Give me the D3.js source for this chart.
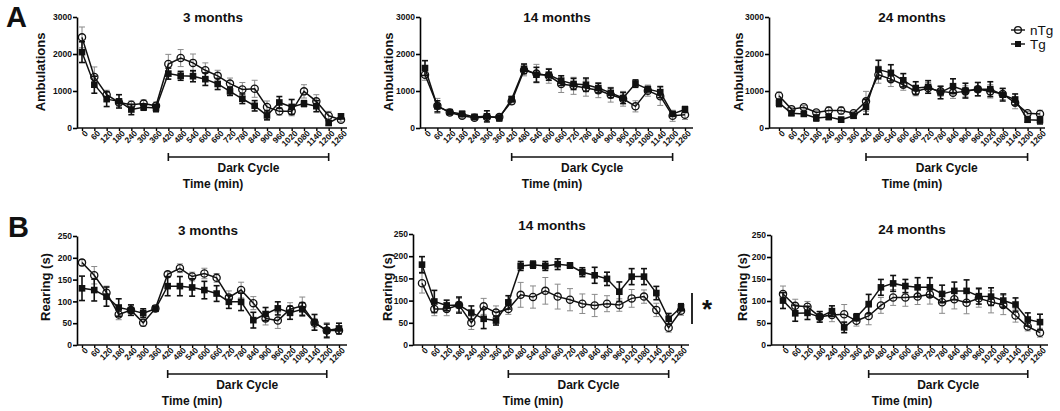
<!DOCTYPE html>
<html>
<head>
<meta charset="utf-8">
<script src="https://cdn.jsdelivr.net/npm/d3@7"></script>
<style>
body{margin:0;background:#fff;}
svg text{font-family:"Liberation Sans",Arial,sans-serif;font-weight:bold;fill:#111;}
svg text.legend{font-weight:normal;}
</style>
</head>
<body>
<div class="graph"></div>
<script>
// time points (min)
const times = [0,60,120,180,240,300,360,420,480,540,600,660,720,780,840,900,960,1020,1080,1140,1200,1260];
const darkCycle = [420, 1200];
const ambTicks = [0,1000,2000,3000];
const rearTicks = [0,50,100,150,200,250];

// Ambulations
const amb3_nTg     = [2450,1380,900,690,630,660,600,1730,1890,1760,1560,1410,1200,1040,1060,570,450,450,990,720,330,225];
const amb3_nTgErr  = [280,270,120,100,100,100,100,260,230,240,200,150,150,190,230,160,100,120,180,180,120,60];
const amb3_Tg      = [2050,1170,780,720,500,560,540,1470,1410,1400,1320,1190,990,790,600,340,690,570,660,590,135,315];
const amb3_TgErr   = [280,230,200,180,140,80,100,150,120,150,170,150,110,130,140,120,160,200,80,150,60,60];

const amb14_nTg    = [1440,600,420,330,280,300,300,720,1560,1470,1410,1190,1140,1080,1020,900,790,585,1010,860,330,360];
const amb14_nTgErr = [150,200,60,70,60,80,50,80,150,250,200,230,230,220,200,200,200,150,150,250,150,130];
const amb14_Tg     = [1620,585,430,380,300,315,270,780,1600,1440,1440,1280,1190,1170,1080,950,810,1200,1050,970,380,500];
const amb14_TgErr  = [200,150,50,70,60,150,80,70,130,200,150,130,150,180,130,130,150,100,70,150,60,80];

const amb24_nTg    = [870,510,560,420,470,470,400,720,1440,1320,1170,990,1080,990,950,990,1050,990,920,680,400,380];
const amb24_nTgErr = [100,50,50,50,100,100,50,270,230,200,150,120,150,130,150,150,180,180,150,160,50,100];
const amb24_Tg     = [680,400,380,270,300,225,330,570,1580,1490,1290,1080,1110,960,1130,1010,1050,1050,900,770,225,210];
const amb24_TgErr  = [100,60,50,80,70,60,60,200,250,220,180,170,170,170,200,200,180,200,170,150,70,100];

// Rearing (s)
const rear3_nTg     = [189,160,120,70,80,51,84,162,176,157,164,154,109,126,96,61,56,82,90,51,33,33];
const rear3_nTgErr  = [7,20,15,12,12,8,7,6,10,10,12,10,15,18,15,15,18,15,20,10,18,8];
const rear3_Tg      = [130,126,111,86,80,73,83,135,135,132,126,118,99,99,57,71,84,74,82,52,33,38];
const rear3_TgErr   = [28,25,22,20,12,10,5,22,22,20,20,18,15,20,18,15,15,15,15,18,15,12];

const rear14_nTg    = [139,81,81,90,50,87,73,81,113,108,122,109,102,93,89,93,90,105,109,79,39,77];
const rear14_nTgErr = [22,15,15,15,15,18,15,12,28,25,30,28,25,22,25,18,14,20,15,15,10,10];
const rear14_Tg     = [181,98,89,90,73,59,55,96,178,181,178,182,179,164,157,149,120,154,154,117,59,85];
const rear14_TgErr  = [18,25,12,18,15,22,10,15,10,8,10,12,6,10,18,15,22,18,18,15,12,8];

const rear24_nTg    = [116,89,87,64,68,70,55,66,90,108,108,110,115,97,104,96,106,98,91,67,42,28];
const rear24_nTgErr = [18,15,12,12,15,22,12,20,18,18,20,18,22,25,22,25,20,25,22,15,10,10];
const rear24_Tg     = [101,72,73,64,77,40,63,93,131,140,134,131,131,116,123,123,111,110,101,92,58,52];
const rear24_TgErr  = [18,18,15,12,12,12,8,22,18,18,15,22,22,20,20,25,18,20,15,15,15,18];

const panels = [
  {title:"3 months",  yLabel:"Ambulations", ticks:ambTicks,  nTg:amb3_nTg,  nTgErr:amb3_nTgErr,  tg:amb3_Tg,  tgErr:amb3_TgErr,
   axisX:77, x0:82, x1:341, xEnd:347, yTop:17, yBot:128, titleX:213, titleY:22, labX:40, labY:72, timeX:213, brY:157},
  {title:"14 months", yLabel:"Ambulations", ticks:ambTicks,  nTg:amb14_nTg, nTgErr:amb14_nTgErr, tg:amb14_Tg, tgErr:amb14_TgErr,
   axisX:420, x0:425, x1:685, xEnd:693, yTop:17, yBot:128, titleX:557, titleY:22, labX:388, labY:72, timeX:552, brY:157},
  {title:"24 months", yLabel:"Ambulations", ticks:ambTicks,  nTg:amb24_nTg, nTgErr:amb24_nTgErr, tg:amb24_Tg, tgErr:amb24_TgErr,
   axisX:769, x0:779, x1:1040, xEnd:1045, yTop:17, yBot:128, titleX:912, titleY:22, labX:738, labY:72, timeX:912, brY:157, legend:true},
  {title:"3 months",  yLabel:"Rearing (s)", ticks:rearTicks, nTg:rear3_nTg,  nTgErr:rear3_nTgErr,  tg:rear3_Tg,  tgErr:rear3_TgErr,
   axisX:77, x0:82, x1:339, xEnd:347, yTop:236, yBot:345, titleX:208, titleY:235, labX:45, labY:287, timeX:192, brY:374},
  {title:"14 months", yLabel:"Rearing (s)", ticks:rearTicks, nTg:rear14_nTg, nTgErr:rear14_nTgErr, tg:rear14_Tg, tgErr:rear14_TgErr,
   axisX:413, x0:422, x1:681, xEnd:689, yTop:234, yBot:345, titleX:552, titleY:230, labX:387, labY:287, timeX:533, brY:374, star:true},
  {title:"24 months", yLabel:"Rearing (s)", ticks:rearTicks, nTg:rear24_nTg, nTgErr:rear24_nTgErr, tg:rear24_Tg, tgErr:rear24_TgErr,
   axisX:771, x0:783, x1:1040, xEnd:1048, yTop:235, yBot:345, titleX:912, titleY:234, labX:742, labY:287, timeX:902, brY:374}
];

const svg = d3.select(".graph").append("svg")
  .attr("width", 1060)
  .attr("height", 411);

//Panel letters
svg.append("text").attr("x", 6).attr("y", 27).attr("font-size", 29).text("A");
svg.append("text").attr("x", 8).attr("y", 237).attr("font-size", 29).text("B");

panels.forEach(function(p){
  const g = svg.append("g");
  const yMax = p.ticks[p.ticks.length - 1];

  const x = d3.scaleLinear().domain([0, 1260]).range([p.x0, p.x1]);
  const y = d3.scaleLinear().domain([0, yMax]).range([p.yBot, p.yTop]);

  //Y axis
  const ya = g.append("g")
    .attr("transform", "translate(" + p.axisX + ",0)")
    .call(d3.axisLeft(y).tickValues(p.ticks).tickFormat(d3.format("d")).tickSize(4).tickSizeOuter(0).tickPadding(1));
  ya.select(".domain").attr("stroke-width", 1.6);
  ya.selectAll(".tick line").attr("stroke-width", 1.6);
  ya.selectAll("text").attr("font-size", 8.5).attr("font-family", "Liberation Sans, Arial").attr("font-weight", "bold");

  //X axis
  const xa = g.append("g")
    .attr("transform", "translate(0," + p.yBot + ")")
    .call(d3.axisBottom(x).tickValues(times).tickFormat(d3.format("d")).tickSize(3).tickSizeOuter(0));
  xa.select(".domain").remove();
  xa.append("line")
    .attr("x1", p.axisX).attr("x2", p.xEnd)
    .attr("stroke", "#111").attr("stroke-width", 1.6);
  xa.selectAll(".tick line").attr("stroke-width", 1.4);
  xa.selectAll("text")
    .attr("font-size", 8.3).attr("font-family", "Liberation Sans, Arial").attr("font-weight", "bold")
    .attr("text-anchor", "end")
    .attr("x", 0).attr("y", 6).attr("dy", "0.3em")
    .attr("transform", "rotate(-45)");

  //Titles and labels
  g.append("text").attr("x", p.titleX).attr("y", p.titleY)
    .attr("text-anchor", "middle").attr("font-size", 13.5).text(p.title);
  g.append("text")
    .attr("transform", "translate(" + p.labX + "," + p.labY + ") rotate(-90)")
    .attr("text-anchor", "middle").attr("dy", "0.35em").attr("font-size", 13).text(p.yLabel);
  g.append("text").attr("x", p.timeX).attr("y", p.brY + 31)
    .attr("text-anchor", "middle").attr("font-size", 12).text("Time (min)");

  //Dark cycle bracket
  const bx1 = x(darkCycle[0]), bx2 = x(darkCycle[1]);
  g.append("line").attr("x1", bx1).attr("x2", bx2).attr("y1", p.brY).attr("y2", p.brY)
    .attr("stroke", "#111").attr("stroke-width", 1.6);
  [bx1, bx2].forEach(function(bx){
    g.append("line").attr("x1", bx).attr("x2", bx).attr("y1", p.brY - 4).attr("y2", p.brY + 4)
      .attr("stroke", "#111").attr("stroke-width", 1.6);
  });
  g.append("text").attr("x", (bx1 + bx2) / 2).attr("y", p.brY + 15)
    .attr("text-anchor", "middle").attr("font-size", 12).text("Dark Cycle");

  //Series
  const series = [
    {vals:p.nTg, err:p.nTgErr, errColor:"#8a8a8a", errW:1, shape:"circle"},
    {vals:p.tg,  err:p.tgErr,  errColor:"#111",    errW:1.6, shape:"square"}
  ];

  series.forEach(function(s){
    const eg = g.append("g");
    times.forEach(function(t, i){
      const cx = x(t), top = y(s.vals[i] + s.err[i]), bot = y(Math.max(0, s.vals[i] - s.err[i]));
      eg.append("line").attr("x1", cx).attr("x2", cx).attr("y1", top).attr("y2", bot)
        .attr("stroke", s.errColor).attr("stroke-width", s.errW);
      [top, bot].forEach(function(yy){
        eg.append("line").attr("x1", cx - 3).attr("x2", cx + 3).attr("y1", yy).attr("y2", yy)
          .attr("stroke", s.errColor).attr("stroke-width", s.errW);
      });
    });
  });

  const line = d3.line()
    .x(function(d, i){ return x(times[i]); })
    .y(function(d){ return y(d); });

  series.forEach(function(s){
    g.append("path").datum(s.vals)
      .attr("d", line).attr("fill", "none")
      .attr("stroke", "#111").attr("stroke-width", 1.5);
  });

  series.forEach(function(s){
    times.forEach(function(t, i){
      if(s.shape === "circle"){
        g.append("circle").attr("cx", x(t)).attr("cy", y(s.vals[i])).attr("r", 3.6)
          .attr("fill", "none").attr("stroke", "#111").attr("stroke-width", 1.3);
      } else {
        g.append("rect").attr("x", x(t) - 3.3).attr("y", y(s.vals[i]) - 3.3)
          .attr("width", 6.6).attr("height", 6.6).attr("fill", "#111");
      }
    });
  });

  //Legend
  if(p.legend){
    const lg = svg.append("g");
    lg.append("line").attr("x1", 1011).attr("x2", 1025).attr("y1", 30).attr("y2", 30).attr("stroke", "#111").attr("stroke-width", 1.4);
    lg.append("circle").attr("cx", 1018).attr("cy", 30).attr("r", 3.4).attr("fill", "none").attr("stroke", "#111").attr("stroke-width", 1.3);
    lg.append("text").attr("class", "legend").attr("x", 1030).attr("y", 34.5).attr("font-size", 13.5).text("nTg");
    lg.append("line").attr("x1", 1011).attr("x2", 1025).attr("y1", 44).attr("y2", 44).attr("stroke", "#111").attr("stroke-width", 1.4);
    lg.append("rect").attr("x", 1015).attr("y", 41).attr("width", 6).attr("height", 6).attr("fill", "#111");
    lg.append("text").attr("class", "legend").attr("x", 1030).attr("y", 48.5).attr("font-size", 13.5).text("Tg");
  }

  //Significance marker
  if(p.star){
    g.append("line").attr("x1", 692).attr("x2", 692).attr("y1", 293).attr("y2", 324)
      .attr("stroke", "#111").attr("stroke-width", 1.8);
    g.append("text").attr("x", 707).attr("y", 318).attr("text-anchor", "middle")
      .attr("font-size", 26).text("*");
  }
});
</script>
</body>
</html>
